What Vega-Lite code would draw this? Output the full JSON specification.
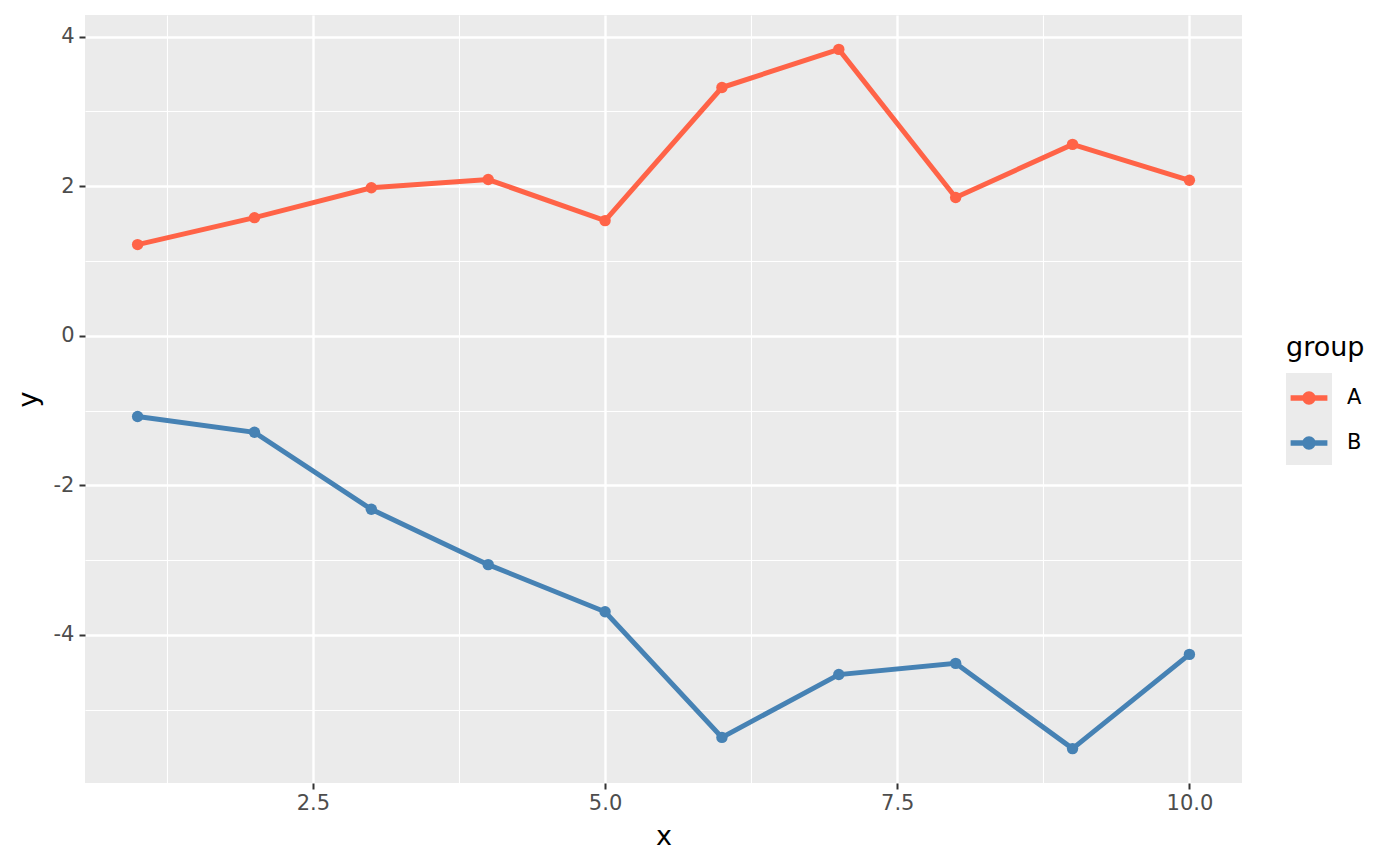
{
  "$schema": "https://vega.github.io/schema/vega-lite/v6.json",
  "width": 1157,
  "height": 768,
  "autosize": {"type": "none"},
  "padding": {"left": 85, "top": 15, "right": 158, "bottom": 83},
  "background": "white",
  "config": {
    "font": "DejaVu Sans",
    "view": {"fill": "#EBEBEB", "stroke": null},
    "axis": {
      "domain": false,
      "labelColor": "#4D4D4D",
      "labelFontSize": 21,
      "tickColor": "#333333",
      "tickWidth": 2,
      "tickSize": 6,
      "gridColor": "white",
      "titleFontSize": 27,
      "titleFontWeight": "normal",
      "titleColor": "black"
    }
  },
  "data": {
    "values": [
      {"x": 1, "y": 1.22, "group": "A"},
      {"x": 2, "y": 1.58, "group": "A"},
      {"x": 3, "y": 1.98, "group": "A"},
      {"x": 4, "y": 2.09, "group": "A"},
      {"x": 5, "y": 1.54, "group": "A"},
      {"x": 6, "y": 3.32, "group": "A"},
      {"x": 7, "y": 3.83, "group": "A"},
      {"x": 8, "y": 1.85, "group": "A"},
      {"x": 9, "y": 2.56, "group": "A"},
      {"x": 10, "y": 2.08, "group": "A"},
      {"x": 1, "y": -1.08, "group": "B"},
      {"x": 2, "y": -1.29, "group": "B"},
      {"x": 3, "y": -2.32, "group": "B"},
      {"x": 4, "y": -3.06, "group": "B"},
      {"x": 5, "y": -3.69, "group": "B"},
      {"x": 6, "y": -5.37, "group": "B"},
      {"x": 7, "y": -4.53, "group": "B"},
      {"x": 8, "y": -4.38, "group": "B"},
      {"x": 9, "y": -5.52, "group": "B"},
      {"x": 10, "y": -4.26, "group": "B"}
    ]
  },
  "encoding": {
    "x": {"field": "x", "type": "quantitative", "scale": {"domain": [0.55, 10.45], "nice": false, "zero": false}},
    "y": {"field": "y", "type": "quantitative", "scale": {"domain": [-5.98, 4.29], "nice": false, "zero": false}},
    "color": {
      "field": "group",
      "type": "nominal",
      "scale": {"range": ["#FF6347", "#4682B4"]},
      "legend": {
        "orient": "none",
        "legendX": 1201,
        "legendY": 320,
        "title": "group",
        "titleFontSize": 27,
        "titleFontWeight": "normal",
        "titleColor": "black",
        "titlePadding": 13,
        "labelFontSize": 21,
        "labelColor": "black",
        "labelOffset": 15,
        "symbolType": "M-0.8,-0.12H0.8V0.12H-0.8Z M0.29,0A0.29,0.29,0,1,1,-0.29,0A0.29,0.29,0,1,1,0.29,0Z",
        "symbolSize": 2116,
        "symbolStrokeWidth": 0,
        "symbolOpacity": 1,
        "rowPadding": 12,
        "padding": 0,
        "zindex": 2,
        "encode": {
          "symbols": {"update": {"fill": {"scale": "color", "field": "value"}, "stroke": {"value": "transparent"}}}
        }
      }
    }
  },
  "layer": [
    {
      "mark": {"type": "line", "strokeWidth": 5},
      "encoding": {
        "x": {
          "field": "x", "type": "quantitative",
          "axis": {"orient": "bottom", "values": [1.25, 3.75, 6.25, 8.75], "grid": true, "gridWidth": 1.1, "labels": false, "ticks": false, "title": null}
        },
        "y": {
          "field": "y", "type": "quantitative",
          "axis": {"orient": "left", "values": [-5, -3, -1, 1, 3], "grid": true, "gridWidth": 1.1, "labels": false, "ticks": false, "title": null}
        }
      }
    },
    {
      "mark": {"type": "point", "filled": true, "opacity": 1, "size": 130},
      "encoding": {
        "x": {
          "field": "x", "type": "quantitative",
          "axis": {"orient": "bottom", "values": [2.5, 5, 7.5, 10], "format": ".1f", "grid": true, "gridWidth": 2.4, "title": "x", "labelPadding": 3, "titlePadding": 10}
        },
        "y": {
          "field": "y", "type": "quantitative",
          "axis": {"orient": "left", "values": [-4, -2, 0, 2, 4], "labelExpr": "datum.value + ''", "grid": true, "gridWidth": 2.4, "title": "y", "labelPadding": 5, "titlePadding": 11}
        }
      }
    },
    {
      "mark": {"type": "point", "filled": true, "opacity": 0},
      "encoding": {
        "x": {"field": "x", "type": "quantitative", "axis": null},
        "y": {"field": "y", "type": "quantitative", "axis": null},
        "fill": {
          "field": "group",
          "type": "nominal",
          "scale": {"domain": ["A", "B"], "range": ["#EBEBEB", "#EBEBEB"]},
          "legend": {
            "orient": "none",
            "legendX": 1201,
            "legendY": 358,
            "title": null,
            "symbolType": "square",
            "symbolSize": 2116,
            "symbolStrokeWidth": 0,
            "symbolOpacity": 1,
            "labelExpr": "''",
            "labelFontSize": 1,
            "labelOffset": 0,
            "rowPadding": 0,
            "padding": 0,
            "zindex": 1
          }
        }
      }
    }
  ],
  "resolve": {"axis": {"x": "independent", "y": "independent"}}
}
